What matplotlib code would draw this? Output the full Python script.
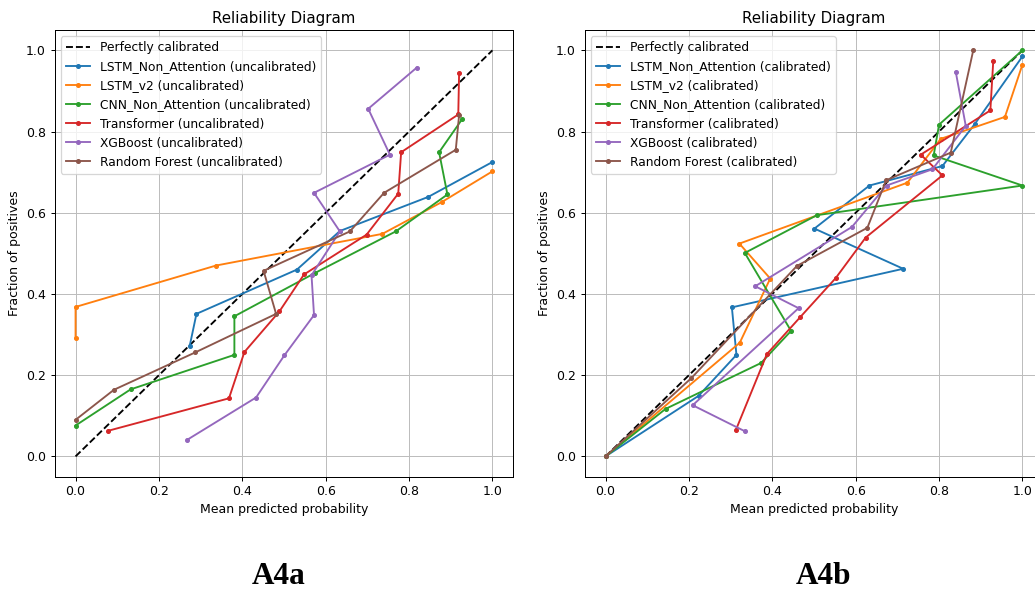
import matplotlib.pyplot as plt

# uncalibrated curves (A4a)
models = ["LSTM_Non_Attention", "LSTM_v2", "CNN_Non_Attention", "Transformer", "XGBoost", "Random Forest"]

unc_x = {
    "LSTM_Non_Attention": [0.274, 0.290, 0.531, 0.634, 0.846, 1.0],
    "LSTM_v2": [0.0, 0.0, 0.337, 0.736, 0.878, 1.0],
    "CNN_Non_Attention": [0.0, 0.132, 0.381, 0.381, 0.575, 0.768, 0.892, 0.872, 0.927],
    "Transformer": [0.078, 0.368, 0.405, 0.489, 0.548, 0.698, 0.774, 0.781, 0.918, 0.920],
    "XGBoost": [0.268, 0.433, 0.501, 0.572, 0.566, 0.634, 0.572, 0.754, 0.702, 0.818],
    "Random Forest": [0.0, 0.092, 0.287, 0.481, 0.451, 0.658, 0.740, 0.912, 0.920],
}
unc_y = {
    "LSTM_Non_Attention": [0.273, 0.351, 0.460, 0.555, 0.639, 0.725],
    "LSTM_v2": [0.291, 0.368, 0.470, 0.548, 0.626, 0.702],
    "CNN_Non_Attention": [0.076, 0.165, 0.250, 0.345, 0.452, 0.554, 0.645, 0.749, 0.830],
    "Transformer": [0.063, 0.143, 0.257, 0.357, 0.448, 0.546, 0.647, 0.749, 0.842, 0.943],
    "XGBoost": [0.041, 0.145, 0.249, 0.348, 0.446, 0.554, 0.649, 0.743, 0.856, 0.957],
    "Random Forest": [0.090, 0.164, 0.256, 0.351, 0.457, 0.554, 0.649, 0.755, 0.840],
}

# calibrated curves (A4b)
cal_x = {
    "LSTM_Non_Attention": [0.0, 0.223, 0.314, 0.303, 0.714, 0.501, 0.633, 0.808, 0.886, 1.0],
    "LSTM_v2": [0.0, 0.322, 0.395, 0.321, 0.724, 0.804, 0.958, 1.0],
    "CNN_Non_Attention": [0.0, 0.144, 0.373, 0.445, 0.334, 0.507, 1.0, 0.787, 0.800, 1.0],
    "Transformer": [0.313, 0.387, 0.467, 0.552, 0.624, 0.808, 0.756, 0.923, 0.930],
    "XGBoost": [0.334, 0.209, 0.463, 0.359, 0.591, 0.674, 0.784, 0.864, 0.840],
    "Random Forest": [0.0, 0.206, 0.459, 0.628, 0.673, 0.828, 0.882],
}
cal_y = {
    "LSTM_Non_Attention": [0.0, 0.149, 0.250, 0.367, 0.462, 0.561, 0.667, 0.715, 0.819, 0.985],
    "LSTM_v2": [0.0, 0.280, 0.438, 0.524, 0.674, 0.782, 0.836, 0.965],
    "CNN_Non_Attention": [0.0, 0.117, 0.230, 0.309, 0.501, 0.594, 0.667, 0.741, 0.817, 1.0],
    "Transformer": [0.066, 0.252, 0.343, 0.439, 0.539, 0.692, 0.743, 0.852, 0.974],
    "XGBoost": [0.062, 0.126, 0.365, 0.419, 0.565, 0.667, 0.707, 0.814, 0.947],
    "Random Forest": [0.0, 0.193, 0.469, 0.563, 0.680, 0.748, 1.0],
}

W, H = 1035, 591
fig = plt.figure(figsize=(W / 90, H / 90), dpi=90)


def reliability(ax, xs, ys, tag):
    ax.plot([0, 1], [0, 1], "k--", label="Perfectly calibrated")
    for m in models:
        ax.plot(xs[m], ys[m], marker=".", label=f"{m} ({tag})")
    ax.set_title("Reliability Diagram")
    ax.set_xlabel("Mean predicted probability")
    ax.set_ylabel("Fraction of positives")
    ax.legend(loc="upper left", fontsize=9.8)
    ax.grid(True, color="#bdbdbd")


ax1 = fig.add_axes([54.7 / W, (H - 476.7) / H, 458.6 / W, 446.7 / H])
reliability(ax1, unc_x, unc_y, "uncalibrated")
ax2 = fig.add_axes([584.7 / W, (H - 476.7) / H, 458.6 / W, 446.7 / H])
reliability(ax2, cal_x, cal_y, "calibrated")

fig.text(279 / W, 7 / H, "A4a", ha="center", va="baseline",
         family="Liberation Serif", fontweight="bold", fontsize=25)
fig.text(823 / W, 7 / H, "A4b", ha="center", va="baseline",
         family="Liberation Serif", fontweight="bold", fontsize=25)

fig.savefig("out.png", dpi=90)
